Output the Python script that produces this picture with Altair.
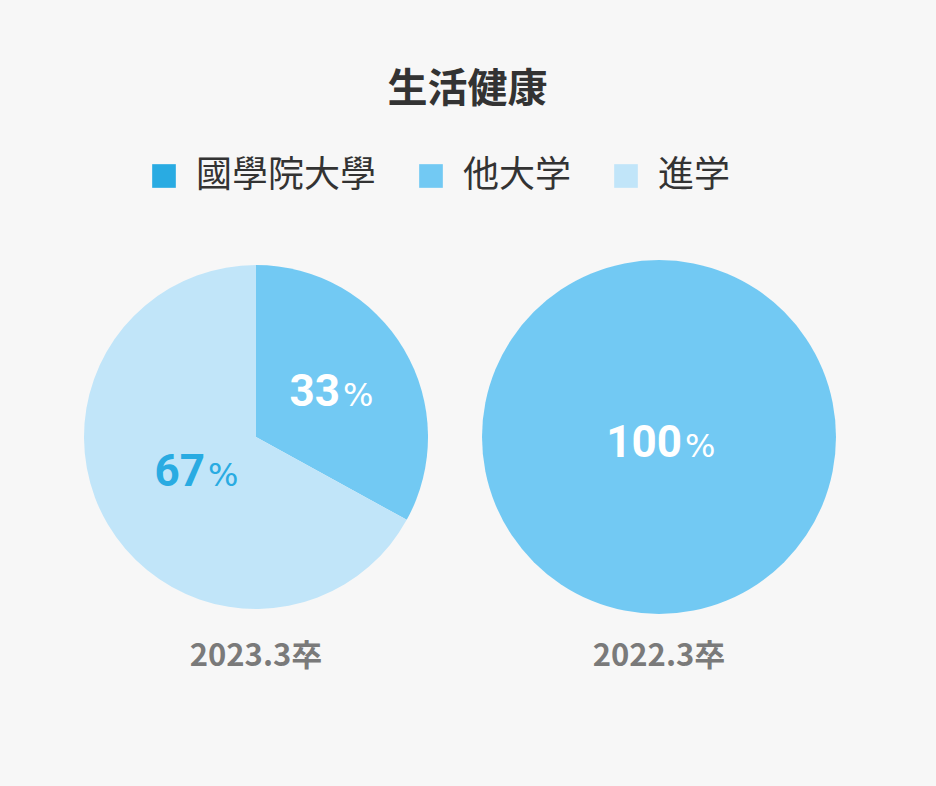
import altair as alt
import pandas as pd

categories = ["國學院大學", "他大学", "進学"]
colors = ["#29abe2", "#72c9f3", "#c1e5f9"]
years = ["2023.3卒", "2022.3卒"]
values_2023 = [0, 33, 67]
values_2022 = [0, 100, 0]

rows = []
for year, vals in zip(years, [values_2023, values_2022]):
    for i, (c, v) in enumerate(zip(categories, vals)):
        rows.append({"year": year, "category": c, "value": v, "order": i})
df = pd.DataFrame(rows)

CJK = "Noto Sans CJK JP"
NUM = "Roboto"

color = alt.Color(
    "category:N",
    scale=alt.Scale(domain=categories, range=colors),
    legend=alt.Legend(
        title=None,
        orient="none",
        direction="horizontal",
        legendX=80,
        legendY=-99,
        symbolType="square",
        symbolSize=560,
        symbolStrokeWidth=0,
        labelFont=CJK,
        labelFontSize=36,
        labelColor="#333333",
        labelOffset=14,
        columnPadding=36,
        labelLimit=400,
    ),
)

theta_scale = alt.Scale(domain=[0, 100])


def panel(year, radius, shift_x, label_expr):
    d = df[df.year == year]
    arc = (
        alt.Chart(d)
        .mark_arc(outerRadius=radius, stroke=None)
        .encode(
            theta=alt.Theta("value:Q", stack=True, scale=theta_scale),
            order=alt.Order("order:Q"),
            color=color,
        )
    )
    lab = (
        alt.Chart(d)
        .transform_window(cum="sum(value)", sort=[alt.SortField("order")], frame=[None, 0])
        .transform_calculate(mid="datum.cum - datum.value / 2")
        .transform_filter("datum.value > 0")
        .transform_calculate(lr=label_expr, num="toString(datum.value)")
        .encode(
            theta=alt.Theta("mid:Q", stack=None, scale=theta_scale),
            radius=alt.Radius("lr:Q", scale=None),
            color=alt.condition(
                "datum.category === '進学'", alt.value("#29abe2"), alt.value("#ffffff")
            ),
        )
    )
    num = lab.mark_text(
        font=NUM, fontSize=44, fontWeight="bold", align="right",
        baseline="alphabetic", dx=shift_x - 2, dy=20,
    ).encode(text="num:N")
    pct = lab.mark_text(
        font="DejaVu Sans", fontSize=32, fontWeight="normal", align="left",
        baseline="alphabetic", dx=shift_x + 1, dy=20,
    ).encode(text=alt.value("%"))
    return alt.layer(arc, num, pct).properties(
        width=380,
        height=360,
        title=alt.TitleParams(
            year, orient="bottom", font=CJK, fontSize=31, fontWeight="bold",
            color="#7a7a7a", offset=25,
        ),
    )


left = panel(years[0], 172, 0, "datum.value < 50 ? 100 : 57")
right = panel(years[1], 177, 25, "datum.value >= 100 ? 0 : 80")

chart = (
    alt.hconcat(left, right, spacing=23)
    .properties(
        title=alt.TitleParams(
            "生活健康", font=CJK, fontSize=40, fontWeight="bold",
            color="#333333", anchor="middle", offset=48, dx=10,
        ),
        padding={"left": 66, "top": 70, "right": 87, "bottom": 140},
        background="#f7f7f7",
    )
    .configure_view(stroke=None)
)

chart.save("out.html", embed_options={"renderer": "svg", "actions": False})
